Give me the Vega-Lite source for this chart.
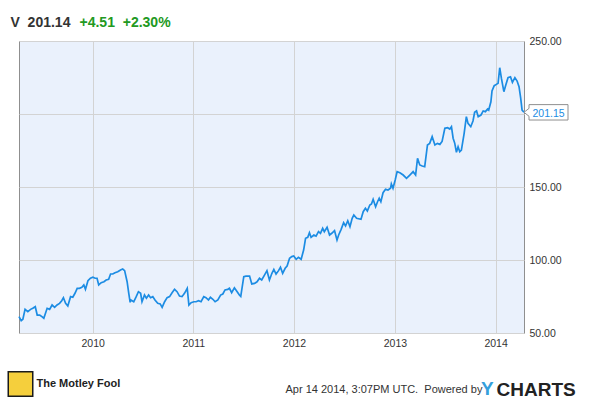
{
  "$schema": "https://vega.github.io/schema/vega-lite/v6.json",
  "width": 505,
  "height": 292,
  "autosize": {"type": "none"},
  "padding": {"left": 19, "top": 41, "right": 66, "bottom": 64},
  "background": "white",
  "config": {
    "font": "Liberation Sans",
    "view": {"fill": "#eaf1fc", "stroke": "#8f8f8f", "strokeWidth": 1},
    "axis": {"labelFont": "Liberation Sans", "titleFont": "Liberation Sans"}
  },
  "datasets": {
    "prices": [
      {"date": "2009-04-09", "close": 61.2},
      {"date": "2009-04-17", "close": 58.4},
      {"date": "2009-04-23", "close": 59.4},
      {"date": "2009-05-01", "close": 66.2},
      {"date": "2009-05-11", "close": 64.6},
      {"date": "2009-05-21", "close": 66.2},
      {"date": "2009-05-29", "close": 66.9},
      {"date": "2009-06-07", "close": 68.0},
      {"date": "2009-06-14", "close": 62.3},
      {"date": "2009-06-23", "close": 62.3},
      {"date": "2009-07-01", "close": 61.2},
      {"date": "2009-07-08", "close": 60.1},
      {"date": "2009-07-20", "close": 66.9},
      {"date": "2009-07-29", "close": 66.2},
      {"date": "2009-08-07", "close": 69.2},
      {"date": "2009-08-16", "close": 67.6},
      {"date": "2009-08-25", "close": 69.2},
      {"date": "2009-09-03", "close": 70.3},
      {"date": "2009-09-11", "close": 72.1},
      {"date": "2009-09-17", "close": 74.2},
      {"date": "2009-09-25", "close": 70.3},
      {"date": "2009-10-03", "close": 68.5},
      {"date": "2009-10-13", "close": 74.9},
      {"date": "2009-10-21", "close": 74.5},
      {"date": "2009-10-29", "close": 77.2},
      {"date": "2009-11-06", "close": 80.6},
      {"date": "2009-11-14", "close": 80.6},
      {"date": "2009-11-23", "close": 81.3},
      {"date": "2009-11-30", "close": 82.9},
      {"date": "2009-12-06", "close": 79.9},
      {"date": "2009-12-15", "close": 85.8},
      {"date": "2009-12-24", "close": 87.5},
      {"date": "2010-01-02", "close": 88.2},
      {"date": "2010-01-10", "close": 87.5},
      {"date": "2010-01-17", "close": 87.5},
      {"date": "2010-01-23", "close": 82.9},
      {"date": "2010-02-01", "close": 84.5},
      {"date": "2010-02-11", "close": 85.1},
      {"date": "2010-02-19", "close": 86.3},
      {"date": "2010-02-28", "close": 86.8},
      {"date": "2010-03-07", "close": 90.4},
      {"date": "2010-03-15", "close": 90.4},
      {"date": "2010-03-23", "close": 91.3},
      {"date": "2010-04-02", "close": 92.0},
      {"date": "2010-04-12", "close": 93.2},
      {"date": "2010-04-20", "close": 93.8},
      {"date": "2010-04-27", "close": 92.7},
      {"date": "2010-05-06", "close": 85.1},
      {"date": "2010-05-12", "close": 77.2},
      {"date": "2010-05-17", "close": 71.0},
      {"date": "2010-05-20", "close": 72.6},
      {"date": "2010-05-30", "close": 71.4},
      {"date": "2010-06-08", "close": 74.9},
      {"date": "2010-06-16", "close": 78.3},
      {"date": "2010-06-24", "close": 77.2},
      {"date": "2010-06-29", "close": 71.4},
      {"date": "2010-07-08", "close": 76.0},
      {"date": "2010-07-15", "close": 73.8},
      {"date": "2010-07-23", "close": 76.0},
      {"date": "2010-07-30", "close": 74.2},
      {"date": "2010-08-07", "close": 74.9},
      {"date": "2010-08-15", "close": 72.6},
      {"date": "2010-08-25", "close": 70.3},
      {"date": "2010-09-03", "close": 69.9},
      {"date": "2010-09-10", "close": 67.6},
      {"date": "2010-09-19", "close": 71.4},
      {"date": "2010-09-28", "close": 74.2},
      {"date": "2010-10-07", "close": 74.9},
      {"date": "2010-10-16", "close": 77.6},
      {"date": "2010-10-25", "close": 79.9},
      {"date": "2010-11-03", "close": 78.3},
      {"date": "2010-11-12", "close": 75.3},
      {"date": "2010-11-21", "close": 74.9},
      {"date": "2010-11-30", "close": 77.2},
      {"date": "2010-12-10", "close": 80.6},
      {"date": "2010-12-16", "close": 69.2},
      {"date": "2010-12-24", "close": 70.8},
      {"date": "2011-01-03", "close": 71.4},
      {"date": "2011-01-11", "close": 71.4},
      {"date": "2011-01-20", "close": 72.1},
      {"date": "2011-01-29", "close": 71.4},
      {"date": "2011-02-08", "close": 74.9},
      {"date": "2011-02-16", "close": 74.2},
      {"date": "2011-02-25", "close": 72.6},
      {"date": "2011-03-04", "close": 74.5},
      {"date": "2011-03-13", "close": 73.1},
      {"date": "2011-03-21", "close": 71.4},
      {"date": "2011-03-31", "close": 72.6},
      {"date": "2011-04-10", "close": 76.0},
      {"date": "2011-04-18", "close": 76.7},
      {"date": "2011-04-26", "close": 79.5},
      {"date": "2011-05-06", "close": 79.9},
      {"date": "2011-05-12", "close": 80.6},
      {"date": "2011-05-20", "close": 77.6},
      {"date": "2011-05-30", "close": 81.0},
      {"date": "2011-06-09", "close": 78.3},
      {"date": "2011-06-17", "close": 76.0},
      {"date": "2011-06-22", "close": 75.0},
      {"date": "2011-07-03", "close": 88.6},
      {"date": "2011-07-11", "close": 89.0},
      {"date": "2011-07-24", "close": 89.0},
      {"date": "2011-08-01", "close": 83.6},
      {"date": "2011-08-11", "close": 84.0},
      {"date": "2011-08-20", "close": 85.1},
      {"date": "2011-08-29", "close": 87.5},
      {"date": "2011-09-06", "close": 86.3},
      {"date": "2011-09-16", "close": 89.7},
      {"date": "2011-09-25", "close": 92.7},
      {"date": "2011-10-04", "close": 86.3},
      {"date": "2011-10-13", "close": 90.9},
      {"date": "2011-10-20", "close": 93.6},
      {"date": "2011-10-28", "close": 90.4},
      {"date": "2011-11-06", "close": 92.7},
      {"date": "2011-11-13", "close": 95.0},
      {"date": "2011-11-21", "close": 90.9},
      {"date": "2011-11-30", "close": 94.3},
      {"date": "2011-12-07", "close": 95.9},
      {"date": "2011-12-16", "close": 101.2},
      {"date": "2011-12-24", "close": 102.3},
      {"date": "2011-12-31", "close": 102.7},
      {"date": "2012-01-09", "close": 100.5},
      {"date": "2012-01-17", "close": 101.8},
      {"date": "2012-01-27", "close": 100.5},
      {"date": "2012-02-05", "close": 106.8},
      {"date": "2012-02-12", "close": 114.9},
      {"date": "2012-02-20", "close": 115.5},
      {"date": "2012-02-26", "close": 118.7},
      {"date": "2012-03-03", "close": 115.5},
      {"date": "2012-03-13", "close": 117.1},
      {"date": "2012-03-21", "close": 116.4},
      {"date": "2012-03-30", "close": 119.4},
      {"date": "2012-04-06", "close": 118.3},
      {"date": "2012-04-14", "close": 121.7},
      {"date": "2012-04-20", "close": 119.4},
      {"date": "2012-04-30", "close": 122.4},
      {"date": "2012-05-09", "close": 117.1},
      {"date": "2012-05-17", "close": 118.3},
      {"date": "2012-05-27", "close": 120.1},
      {"date": "2012-06-05", "close": 113.7},
      {"date": "2012-06-11", "close": 117.1},
      {"date": "2012-06-20", "close": 121.0},
      {"date": "2012-06-29", "close": 125.5},
      {"date": "2012-07-06", "close": 123.3},
      {"date": "2012-07-14", "close": 126.9},
      {"date": "2012-07-22", "close": 122.8},
      {"date": "2012-07-30", "close": 128.6},
      {"date": "2012-08-05", "close": 130.8},
      {"date": "2012-08-15", "close": 128.6},
      {"date": "2012-08-31", "close": 127.9},
      {"date": "2012-09-08", "close": 133.1},
      {"date": "2012-09-16", "close": 135.4},
      {"date": "2012-09-23", "close": 133.6},
      {"date": "2012-10-02", "close": 137.7},
      {"date": "2012-10-08", "close": 138.4},
      {"date": "2012-10-14", "close": 141.6},
      {"date": "2012-10-23", "close": 136.5},
      {"date": "2012-10-30", "close": 139.9},
      {"date": "2012-11-05", "close": 142.3},
      {"date": "2012-11-11", "close": 139.9},
      {"date": "2012-11-19", "close": 146.1},
      {"date": "2012-11-28", "close": 148.4},
      {"date": "2012-12-07", "close": 147.9},
      {"date": "2012-12-16", "close": 149.1},
      {"date": "2012-12-19", "close": 152.1},
      {"date": "2012-12-25", "close": 149.1},
      {"date": "2013-01-02", "close": 154.8},
      {"date": "2013-01-09", "close": 160.5},
      {"date": "2013-01-19", "close": 159.8},
      {"date": "2013-01-31", "close": 158.2},
      {"date": "2013-02-12", "close": 156.0},
      {"date": "2013-02-24", "close": 158.2},
      {"date": "2013-03-08", "close": 160.5},
      {"date": "2013-03-17", "close": 158.2},
      {"date": "2013-03-24", "close": 169.7},
      {"date": "2013-04-01", "close": 165.1},
      {"date": "2013-04-10", "close": 164.4},
      {"date": "2013-04-19", "close": 163.9},
      {"date": "2013-04-29", "close": 178.8},
      {"date": "2013-05-07", "close": 179.9},
      {"date": "2013-05-16", "close": 184.5},
      {"date": "2013-05-26", "close": 178.8},
      {"date": "2013-06-04", "close": 179.9},
      {"date": "2013-06-13", "close": 179.2},
      {"date": "2013-06-21", "close": 181.2},
      {"date": "2013-07-01", "close": 190.2},
      {"date": "2013-07-11", "close": 190.6},
      {"date": "2013-07-19", "close": 189.7},
      {"date": "2013-07-25", "close": 191.3},
      {"date": "2013-07-31", "close": 183.4},
      {"date": "2013-08-06", "close": 179.9},
      {"date": "2013-08-12", "close": 173.8},
      {"date": "2013-08-18", "close": 177.6},
      {"date": "2013-08-24", "close": 174.2},
      {"date": "2013-08-30", "close": 175.3},
      {"date": "2013-09-09", "close": 186.8},
      {"date": "2013-09-17", "close": 198.2},
      {"date": "2013-09-23", "close": 193.6},
      {"date": "2013-10-03", "close": 191.3},
      {"date": "2013-10-11", "close": 195.2},
      {"date": "2013-10-17", "close": 201.2},
      {"date": "2013-10-24", "close": 202.1},
      {"date": "2013-10-30", "close": 198.2},
      {"date": "2013-11-09", "close": 199.3},
      {"date": "2013-11-17", "close": 202.1},
      {"date": "2013-11-25", "close": 201.6},
      {"date": "2013-12-03", "close": 203.4},
      {"date": "2013-12-07", "close": 202.7},
      {"date": "2013-12-15", "close": 208.4},
      {"date": "2013-12-19", "close": 215.8},
      {"date": "2013-12-27", "close": 219.4},
      {"date": "2014-01-04", "close": 220.3},
      {"date": "2014-01-10", "close": 221.0},
      {"date": "2014-01-16", "close": 231.7},
      {"date": "2014-01-22", "close": 224.5},
      {"date": "2014-01-31", "close": 215.3},
      {"date": "2014-02-07", "close": 219.9},
      {"date": "2014-02-15", "close": 224.9},
      {"date": "2014-02-24", "close": 225.5},
      {"date": "2014-03-03", "close": 221.7},
      {"date": "2014-03-12", "close": 224.9},
      {"date": "2014-03-20", "close": 222.6},
      {"date": "2014-03-27", "close": 218.7},
      {"date": "2014-04-02", "close": 210.8},
      {"date": "2014-04-07", "close": 202.7},
      {"date": "2014-04-14", "close": 201.15}
    ],
    "last": [
      {"date": "2014-04-14", "close": 201.15, "label": "201.15", "brand": "The Motley Fool", "logo": "Y"}
    ]
  },
  "resolve": {"axis": {"x": "independent", "y": "independent"}},
  "layer": [
    {
      "data": {"name": "prices"},
      "mark": {"type": "line", "color": "#1c8ce3", "strokeWidth": 1.7},
      "encoding": {
        "x": {
          "field": "date",
          "type": "temporal",
          "scale": {
            "type": "utc",
            "domain": [
              {"year": 2009, "month": 4, "date": 9, "utc": true},
              {"year": 2014, "month": 4, "date": 14, "utc": true}
            ]
          },
          "axis": {
            "orient": "bottom",
            "values": [
              {"year": 2010, "month": 1, "date": 1, "utc": true},
              {"year": 2011, "month": 1, "date": 1, "utc": true},
              {"year": 2012, "month": 1, "date": 1, "utc": true},
              {"year": 2013, "month": 1, "date": 1, "utc": true},
              {"year": 2014, "month": 1, "date": 1, "utc": true}
            ],
            "format": "%Y",
            "formatType": "utc",
            "labelFlush": false,
            "labelFontSize": 10.5,
            "labelColor": "#333333",
            "labelPadding": 5,
            "ticks": false,
            "domain": false,
            "grid": true,
            "gridColor": "#d3d3d3",
            "gridWidth": 1,
            "title": "Apr 14 2014, 3:07PM UTC.\u00a0 Powered by",
            "titleX": 266,
            "titleY": 59.5,
            "titleAlign": "left",
            "titleBaseline": "alphabetic",
            "titleFontSize": 11,
            "titleFontWeight": "normal",
            "titleColor": "#333333"
          }
        },
        "y": {
          "field": "close",
          "type": "quantitative",
          "scale": {"domain": [50, 250], "nice": false, "zero": false},
          "axis": {
            "orient": "right",
            "values": [50, 100, 150, 200, 250],
            "labelExpr": "datum.value == 200 ? '' : format(datum.value, '.2f')",
            "labelAlign": "left",
            "labelBaseline": "middle",
            "labelPadding": 5,
            "labelFontSize": 10.5,
            "labelColor": "#333333",
            "ticks": false,
            "domain": false,
            "grid": true,
            "gridColor": "#d3d3d3",
            "gridWidth": 1,
            "title": "CHARTS",
            "titleAngle": 0,
            "titleX": -28,
            "titleY": 354,
            "titleAlign": "left",
            "titleBaseline": "alphabetic",
            "titleFontSize": 19,
            "titleFontWeight": "bold",
            "titleColor": "#222222"
          }
        }
      }
    },
    {
      "data": {"name": "last"},
      "mark": {
        "type": "point",
        "shape": "M0,0L0.114,-0.09L0.114,-0.175L1,-0.175L1,0.175L0.114,0.175L0.114,0.09Z",
        "size": 7744,
        "filled": true,
        "fill": "white",
        "stroke": "#8f8f8f",
        "strokeWidth": 1,
        "opacity": 1
      },
      "encoding": {
        "x": {
          "field": "date",
          "type": "temporal",
          "axis": {
            "orient": "top",
            "labels": false,
            "ticks": false,
            "domain": false,
            "grid": false,
            "title": "V\u00a0\u00a0201.14",
            "titleX": -9,
            "titleY": -15,
            "titleAlign": "left",
            "titleBaseline": "alphabetic",
            "titleFontSize": 14,
            "titleFontWeight": "bold",
            "titleColor": "#333333"
          }
        },
        "y": {
          "field": "close",
          "type": "quantitative",
          "axis": {
            "orient": "left",
            "labels": false,
            "ticks": false,
            "domain": false,
            "grid": false,
            "title": "+4.51\u00a0\u00a0+2.30%",
            "titleAngle": 0,
            "titleX": 60,
            "titleY": -15,
            "titleAlign": "left",
            "titleBaseline": "alphabetic",
            "titleFontSize": 14,
            "titleFontWeight": "bold",
            "titleColor": "#229922"
          }
        }
      }
    },
    {
      "data": {"name": "last"},
      "mark": {"type": "text", "align": "left", "baseline": "middle", "dx": 8.5, "dy": 1.5, "fontSize": 10.5, "color": "#1c8ce3"},
      "encoding": {
        "x": {"field": "date", "type": "temporal", "axis": null},
        "y": {"field": "close", "type": "quantitative", "axis": null},
        "text": {"field": "label"}
      }
    },
    {
      "data": {"name": "last"},
      "mark": {"type": "point", "filled": true, "opacity": 0},
      "encoding": {
        "x": {"field": "date", "type": "temporal", "axis": null},
        "y": {"field": "close", "type": "quantitative", "axis": null},
        "color": {
          "field": "brand",
          "type": "nominal",
          "scale": {"range": ["#f5cf3c"]},
          "legend": {
            "orient": "none",
            "legendX": -11.5,
            "legendY": 330,
            "title": null,
            "padding": 0,
            "symbolType": "square",
            "symbolSize": 600,
            "symbolOpacity": 1,
            "symbolFillColor": "#f5cf3c",
            "symbolStrokeColor": "#1a1a1a",
            "symbolStrokeWidth": 1.5,
            "labelFont": "Liberation Sans",
            "labelFontSize": 11,
            "labelFontWeight": "bold",
            "labelColor": "#222222",
            "labelOffset": 3
          }
        }
      }
    },
    {
      "data": {"name": "last"},
      "mark": {"type": "point", "filled": true, "opacity": 0},
      "encoding": {
        "x": {"field": "date", "type": "temporal", "axis": null},
        "y": {"field": "close", "type": "quantitative", "axis": null},
        "shape": {
          "field": "logo",
          "type": "nominal",
          "legend": {
            "orient": "none",
            "legendX": 443,
            "legendY": 338,
            "title": null,
            "padding": 0,
            "symbolSize": 1,
            "symbolOpacity": 0,
            "labelOffset": 0,
            "labelFontSize": 19,
            "labelFontWeight": "bold",
            "labelColor": "#35a0dc"
          }
        }
      }
    }
  ]
}
